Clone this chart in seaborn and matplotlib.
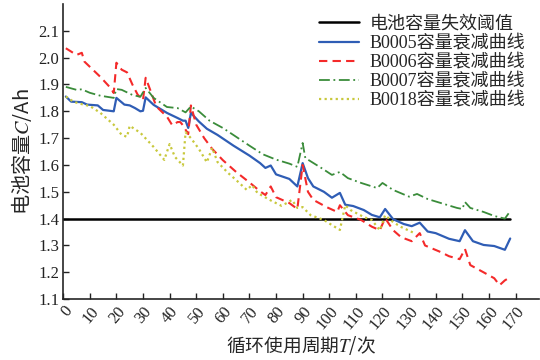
#! /usr/bin/env python3
import matplotlib
matplotlib.use('Agg')
import matplotlib.pyplot as plt
import seaborn as sns
import pandas as pd

# capacity readings (cycle, Ah)
b5_cycle = [1, 3, 7, 9, 13, 15, 19, 20, 23, 25, 27, 29, 30, 31, 34, 39, 43, 45, 46, 47, 48,
            51, 54, 58, 64, 70, 74, 76, 78, 80, 85, 88, 90, 92, 94, 98, 101, 104, 106, 109,
            113, 116, 119, 121, 124, 128, 131, 134, 137, 140, 145, 149, 151, 154, 158, 162,
            166, 168]
b5_cap = [1.855, 1.836, 1.834, 1.825, 1.822, 1.805, 1.800, 1.850, 1.825, 1.822, 1.812, 1.800,
          1.802, 1.852, 1.824, 1.794, 1.775, 1.765, 1.765, 1.738, 1.794, 1.762, 1.735, 1.712,
          1.672, 1.635, 1.607, 1.589, 1.598, 1.565, 1.548, 1.520, 1.607, 1.551, 1.520, 1.500,
          1.478, 1.496, 1.452, 1.447, 1.432, 1.414, 1.405, 1.436, 1.398, 1.380, 1.372, 1.385,
          1.352, 1.346, 1.325, 1.316, 1.357, 1.316, 1.302, 1.298, 1.284, 1.326]

b6_cycle = [1, 5, 7, 8, 10, 14, 18, 19, 20, 22, 24, 26, 28, 30, 31, 33, 35, 39, 41, 43, 44,
            45, 47, 48, 50, 53, 56, 60, 65, 70, 74, 76, 78, 80, 85, 88, 90, 92, 94, 99, 103,
            104, 107, 112, 116, 119, 121, 124, 127, 131, 134, 136, 142, 145, 149, 151, 153,
            158, 162, 164, 166, 168]
b6_cap = [2.035, 2.010, 2.018, 1.985, 1.966, 1.928, 1.885, 1.868, 1.981, 1.955, 1.945, 1.900,
          1.862, 1.842, 1.925, 1.872, 1.818, 1.780, 1.748, 1.760, 1.760, 1.748, 1.715, 1.822,
          1.750, 1.700, 1.660, 1.618, 1.574, 1.535, 1.502, 1.488, 1.520, 1.480, 1.458, 1.436,
          1.600, 1.500, 1.470, 1.443, 1.425, 1.450, 1.413, 1.395, 1.370, 1.357, 1.402, 1.357,
          1.331, 1.316, 1.346, 1.300, 1.275, 1.260, 1.249, 1.287, 1.227, 1.200, 1.178, 1.152,
          1.170, 1.182]

b7_cycle = [1, 5, 7, 10, 14, 19, 20, 22, 26, 29, 31, 34, 39, 43, 46, 48, 51, 55, 60, 65, 70,
            75, 80, 85, 88, 90, 91, 97, 101, 104, 107, 112, 118, 120, 124, 130, 133, 137, 142,
            148, 150, 151, 153, 158, 162, 166, 168]
b7_cap = [1.891, 1.880, 1.882, 1.869, 1.858, 1.850, 1.883, 1.880, 1.861, 1.854, 1.887, 1.850,
          1.816, 1.812, 1.796, 1.818, 1.800, 1.765, 1.738, 1.705, 1.672, 1.640, 1.620, 1.605,
          1.593, 1.682, 1.626, 1.589, 1.563, 1.574, 1.551, 1.533, 1.514, 1.533, 1.507, 1.482,
          1.492, 1.473, 1.458, 1.440, 1.436, 1.462, 1.440, 1.425, 1.410, 1.400, 1.428]

b18_cycle = [1, 4, 8, 10, 14, 19, 22, 24, 25, 29, 34, 38, 40, 42, 45, 46, 48, 51, 54, 56, 58,
             62, 65, 69, 71, 73, 78, 82, 84, 86, 88, 90, 93, 98, 101, 104, 106, 108, 113, 116,
             119, 121, 124, 127, 132]
b18_cap = [1.855, 1.835, 1.824, 1.820, 1.794, 1.750, 1.712, 1.705, 1.746, 1.720, 1.667, 1.619,
           1.678, 1.630, 1.598, 1.722, 1.700, 1.660, 1.610, 1.664, 1.611, 1.570, 1.544, 1.507,
           1.525, 1.496, 1.468, 1.448, 1.458, 1.470, 1.440, 1.443, 1.413, 1.395, 1.376, 1.358,
           1.450, 1.432, 1.406, 1.395, 1.357, 1.413, 1.387, 1.369, 1.346]

threshold = 1.4
threshold_end = 168
x_ticks = list(range(0, 171, 10))
y_ticks = [1.1, 1.2, 1.3, 1.4, 1.5, 1.6, 1.7, 1.8, 1.9, 2.0, 2.1]

labels = ['电池容量失效阈值', 'B0005容量衰减曲线', 'B0006容量衰减曲线',
          'B0007容量衰减曲线', 'B0018容量衰减曲线']

sns.set_style('ticks')
plt.rcParams['font.family'] = ['Liberation Serif', 'Noto Sans CJK SC']
plt.rcParams['mathtext.fontset'] = 'stix'
plt.rcParams['axes.linewidth'] = 1.2

fig, ax = plt.subplots(figsize=(5.4, 3.6), dpi=100)
fig.subplots_adjust(left=0.117, right=0.999, bottom=0.169, top=0.989)

# threshold line
sns.lineplot(x=[0, threshold_end], y=[threshold, threshold], ax=ax, color='black',
             linewidth=1.8, label=labels[0])

series = [
    (b5_cycle, b5_cap, '#2F5DB5', '-', 1.6),
    (b6_cycle, b6_cap, '#F42A2A', (0, (4, 2.5)), 1.5),
    (b7_cycle, b7_cap, '#3A8C3A', (0, (6, 2, 1, 2)), 1.3),
    (b18_cycle, b18_cap, '#C8C83C', (0, (1, 1.5)), 1.6),
]
for (cx, cy, col, ls, lw), lab in zip(series, labels[1:]):
    df = pd.DataFrame({'cycle': cx, 'cap': cy})
    sns.lineplot(data=df, x='cycle', y='cap', ax=ax, color=col, linestyle=ls,
                 linewidth=lw, label=lab)

ax.set_xlim(0, 179)
ax.set_ylim(1.1, 2.2)
ax.set_xticks(x_ticks)
ax.set_yticks(y_ticks)
ax.set_yticklabels([f'{v:.1f}' for v in y_ticks], fontsize=12)
ax.set_xticklabels([str(v) for v in x_ticks], fontsize=12, rotation=50,
                   ha='right', va='top', rotation_mode='anchor')
ax.tick_params(direction='in', length=4, width=1, colors='#222222', pad=3)
for s in ['top', 'right']:
    ax.spines[s].set_visible(False)

ax.set_xlabel('循环使用周期$T$/次', fontsize=13.5, family='Noto Sans CJK SC', labelpad=1)
ax.set_ylabel('电池容量$C$/Ah', fontsize=14.5, family='Noto Sans CJK SC', labelpad=3)

leg = ax.legend(loc='upper right', bbox_to_anchor=(1.005, 1.015), frameon=False,
                handlelength=2.2, labelspacing=0.12, handletextpad=0.6,
                prop={'family': ['Liberation Serif', 'Noto Sans CJK SC'], 'size': 13})

fig.savefig('out.png', dpi=100)
